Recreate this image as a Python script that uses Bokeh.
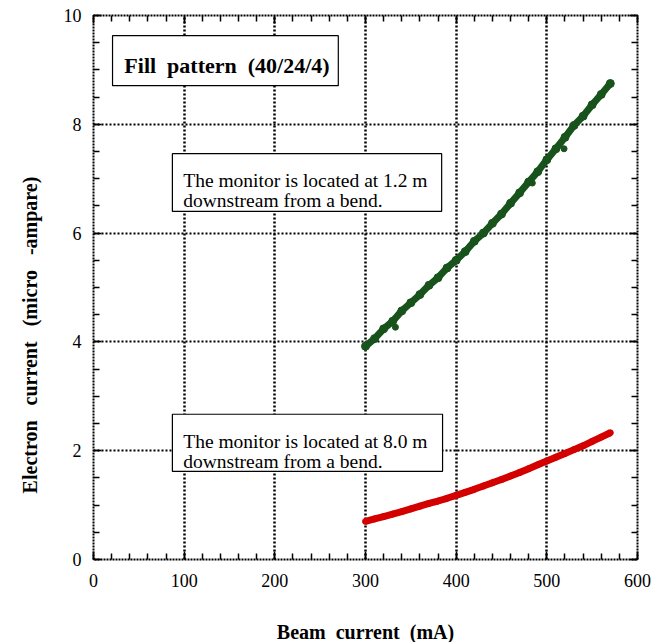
from bokeh.plotting import figure
from bokeh.models import LinearAxis, Label, ColumnDataSource, CustomJSTickFormatter, FixedTicker
from bokeh.embed import file_html
from bokeh.resources import INLINE

# Beam current (mA) and electron current (micro-ampere) readings
beam_near = [300, 310, 320, 330, 340, 350, 360, 370, 380, 390, 400, 410, 420, 430,
             440, 450, 460, 470, 480, 490, 500, 510, 520, 530, 540, 550, 560, 570]
electron_near = [3.92, 4.06, 4.24, 4.38, 4.57, 4.72, 4.87, 5.04, 5.18, 5.36, 5.50, 5.66,
                 5.85, 6.00, 6.18, 6.35, 6.55, 6.74, 6.94, 7.13, 7.35, 7.55, 7.76,
                 7.98, 8.15, 8.36, 8.55, 8.75]
# scattered readings lying off the main band
beam_near_off = [333, 484, 519]
electron_near_off = [4.27, 6.92, 7.55]

beam_far = [300, 310, 320, 330, 340, 350, 360, 370, 380, 390, 400, 410, 420, 430, 440,
            450, 460, 470, 480, 490, 500, 510, 520, 530, 540, 550, 560, 570]
electron_far = [0.70, 0.745, 0.79, 0.835, 0.88, 0.93, 0.98, 1.03, 1.075, 1.125, 1.18, 1.235,
                1.29, 1.35, 1.41, 1.47, 1.535, 1.60, 1.67, 1.74, 1.81, 1.88, 1.95, 2.02, 2.09,
                2.17, 2.25, 2.33]

x_ticks = [0, 100, 200, 300, 400, 500, 600]
y_ticks = [0, 2, 4, 6, 8, 10]

SERIF = "'Liberation Serif', 'Times New Roman', Times, serif"
NB = "\u00a0"

p = figure(frame_width=544, frame_height=544,
           x_range=(0, 600), y_range=(0, 10),
           min_border_left=93, min_border_right=14, min_border_top=15, min_border_bottom=83,
           output_backend="svg", toolbar_location=None,
           background_fill_color="white", border_fill_color="white")

p.outline_line_color = "black"
p.outline_line_width = 2
p.outline_line_dash = "2 1"

# dotted grid at major ticks
p.xgrid.ticker = FixedTicker(ticks=x_ticks)
p.ygrid.ticker = FixedTicker(ticks=y_ticks)
p.xgrid.grid_line_color = "black"
p.xgrid.grid_line_width = 2.5
p.xgrid.grid_line_dash = "2 2"
p.ygrid.grid_line_color = "black"
p.ygrid.grid_line_width = 2
p.ygrid.grid_line_dash = "2 2"

def style_axis(ax):
    ax.axis_line_color = None
    ax.major_tick_in = 8
    ax.major_tick_out = 0
    ax.minor_tick_in = 6
    ax.minor_tick_out = 0
    ax.major_tick_line_color = "black"
    ax.minor_tick_line_color = "black"
    ax.major_tick_line_width = 1.5
    ax.minor_tick_line_width = 1.5
    ax.major_label_text_font = SERIF
    ax.major_label_text_font_size = "18px"
    ax.major_label_text_color = "black"
    ax.axis_label_text_font = SERIF
    ax.axis_label_text_font_style = "bold"
    ax.axis_label_text_font_size = "20px"
    ax.axis_label_text_color = "black"

x_minor = list(range(0, 601, 20))
y_minor = [i * 0.5 for i in range(21)]

xa = p.xaxis[0]
xa.ticker = FixedTicker(ticks=x_ticks, minor_ticks=x_minor)
style_axis(xa)
xa.major_label_standoff = 14
xa.axis_label = "Beam" + NB + " current" + NB + " (mA)"
xa.axis_label_standoff = 31

ya = p.yaxis[0]
ya.ticker = FixedTicker(ticks=y_ticks, minor_ticks=y_minor)
style_axis(ya)
ya.major_label_standoff = 12
# trailing blanks move the printed title toward the lower part of the axis
ya.axis_label = ("Electron" + NB + NB + " current" + NB + NB + " (micro" + NB + NB + " -ampare)"
                 + NB * 19)
ya.axis_label_standoff = 20

blank = CustomJSTickFormatter(code="return ''")
top = LinearAxis(ticker=FixedTicker(ticks=x_ticks, minor_ticks=x_minor), formatter=blank)
style_axis(top)
top.major_label_text_font_size = "1px"
p.add_layout(top, "above")
right = LinearAxis(ticker=FixedTicker(ticks=y_ticks, minor_ticks=y_minor), formatter=blank)
style_axis(right)
right.major_label_text_font_size = "1px"
p.add_layout(right, "right")

# measured curves
green = "#17531a"
red = "#d40000"
near = ColumnDataSource(dict(x=beam_near, y=electron_near))
near_off = ColumnDataSource(dict(x=beam_near_off, y=electron_near_off))
far = ColumnDataSource(dict(x=beam_far, y=electron_far))
p.line("x", "y", source=near, line_color=green, line_width=7)
p.scatter("x", "y", source=near, size=8, fill_color=green, line_color=green)
p.scatter("x", "y", source=near_off, size=6, fill_color=green, line_color=green)
p.line("x", "y", source=far, line_color=red, line_width=7)
p.scatter("x", "y", source=far, size=6, fill_color=red, line_color=red)

# annotation boxes
p.quad(left=[21, 87, 87], right=[270, 384, 385], bottom=[8.71, 6.40, 1.62], top=[9.63, 7.46, 2.67],
       fill_color="white", line_color="black", line_width=1.2)

p.add_layout(Label(x=34, y=9.08, text="Fill" + NB + " pattern" + NB + " (40/24/4)",
                   text_font=SERIF, text_font_style="bold", text_font_size="22px",
                   text_baseline="alphabetic", text_color="black"))
for y0, dist in [(6.97, "1.2"), (2.17, "8.0")]:
    p.add_layout(Label(x=99, y=y0, text="The monitor is located at " + dist + " m",
                       text_font=SERIF, text_font_size="19.5px",
                       text_baseline="alphabetic", text_color="black"))
    p.add_layout(Label(x=99, y=y0 - 0.37, text="downstream from a bend.",
                       text_font=SERIF, text_font_size="19.5px",
                       text_baseline="alphabetic", text_color="black"))

open("out.html", "w").write(file_html(p, INLINE))
